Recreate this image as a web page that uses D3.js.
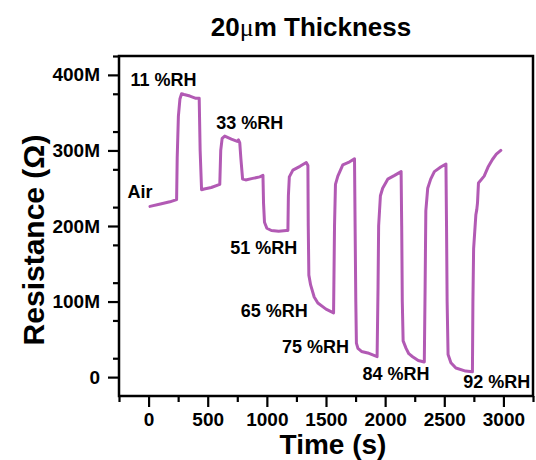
<!DOCTYPE html>
<html>
<head>
<meta charset="utf-8">
<script src="https://cdn.jsdelivr.net/npm/d3@7"></script>
<style>
  body { margin: 0; background: #fff; }
  svg { display: block; font-family: "Liberation Sans", Arial, sans-serif; }
</style>
</head>
<body>
<svg id="chart" width="536" height="460"></svg>
<script>
// Sensor response: time (s) vs. resistance (MΩ)
const timeSec = [
  12, 100, 180, 237,
  242, 252, 265, 279, 300, 349, 400, 428,
  436, 448, 470, 530, 602,
  610, 622, 644, 700, 750, 760, 771,
  780, 795, 821, 880, 940, 967,
  972, 980, 1000, 1038, 1100, 1165,
  1178, 1182, 1190, 1220, 1280, 1333,
  1347, 1350, 1355, 1370, 1400, 1431, 1500, 1564,
  1572, 1580, 1600, 1642, 1700, 1741,
  1746, 1752, 1757, 1770, 1800, 1853, 1932,
  1940, 1945, 1960, 1979, 2022, 2080, 2135,
  2140, 2145, 2152, 2177, 2200, 2232, 2280, 2331,
  2338, 2344, 2360, 2385, 2416, 2470, 2514,
  2519, 2524, 2532, 2556, 2598, 2680, 2738,
  2742, 2748, 2767, 2775, 2781, 2789, 2837, 2870, 2907, 2940, 2978
];
const resistanceM = [
  226, 229, 232, 235,
  290, 345, 368, 375, 374, 372, 369, 369,
  300, 248, 249, 251, 255,
  300, 316, 319, 315, 312, 314, 310,
  290, 262, 261, 263, 265, 267,
  230, 205, 197, 194, 193, 194,
  194, 240, 265, 274, 279, 284,
  280, 200, 135, 122, 106, 98, 90, 85,
  200, 255, 266, 281, 285, 289,
  200, 100, 45, 38, 34, 32, 27,
  120, 200, 240, 250, 262, 267, 272,
  200, 100, 48, 38, 31, 27, 22, 20,
  120, 220, 250, 262, 272, 278, 282,
  200, 100, 30, 19, 12, 8, 7,
  100, 170, 215, 222, 231, 257, 266, 278, 288, 295, 300
];

const xTicks = [0, 500, 1000, 1500, 2000, 2500, 3000];
const yTicks = [0, 100, 200, 300, 400];
const yTickLabels = ["0", "100M", "200M", "300M", "400M"];

// Humidity step annotations, anchored in data units (time, resistance)
const stepLabels = ["Air", "11 %RH", "33 %RH", "51 %RH", "65 %RH", "75 %RH", "84 %RH", "92 %RH"];
const stepLabelTime = [-73, 126, 855, 973, 1062, 1412, 2092, 2943];
const stepLabelRes = [237, 385, 329, 163, 80, 32, -4, -14];

const svg = d3.select("#chart");
const plotLeft = 119, plotRight = 533, plotTop = 56, plotBottom = 396;

const x = d3.scaleLinear().domain([-250, 3250]).range([plotLeft, plotRight]);
const y = d3.scaleLinear().domain([-25, 425]).range([plotBottom, plotTop]);

// Title
const title = svg.append("text")
  .attr("x", 311).attr("y", 36)
  .attr("text-anchor", "middle")
  .attr("font-size", 26).attr("font-weight", "bold");
title.append("tspan").text("20");
title.append("tspan").attr("font-family", "'Liberation Serif', serif").attr("font-weight", "normal").text("μ");
title.append("tspan").text("m Thickness");

// Minor ticks
const xMinor = d3.range(-250, 3251, 250).filter(v => v % 500 !== 0);
const yMinor = d3.range(-25, 426, 50).filter(v => v > -25);

const xAxis = d3.axisBottom(x).tickValues(xTicks).tickSize(11).tickPadding(6).tickFormat(d3.format("d"));
const yAxis = d3.axisLeft(y).tickValues(yTicks).tickSize(11).tickPadding(8)
  .tickFormat((d, i) => yTickLabels[i]);

const gx = svg.append("g").attr("transform", `translate(0,${plotBottom})`).call(xAxis);
const gy = svg.append("g").attr("transform", `translate(${plotLeft},0)`).call(yAxis);

svg.append("g").attr("transform", `translate(0,${plotBottom})`)
  .call(d3.axisBottom(x).tickValues(xMinor).tickSize(6).tickFormat(""))
  .call(g => g.select(".domain").remove());
svg.append("g").attr("transform", `translate(${plotLeft},0)`)
  .call(d3.axisLeft(y).tickValues(yMinor).tickSize(6).tickFormat(""))
  .call(g => g.select(".domain").remove());

svg.selectAll(".tick line").attr("stroke", "#000").attr("stroke-width", 2.2);
[gx, gy].forEach(g => {
  g.select(".domain").remove();
  g.selectAll("text").attr("font-size", 19).attr("font-weight", "bold")
    .attr("font-family", "'Liberation Sans', Arial, sans-serif").attr("fill", "#000");
});

// Frame
svg.append("rect")
  .attr("x", plotLeft).attr("y", plotTop)
  .attr("width", plotRight - plotLeft).attr("height", plotBottom - plotTop)
  .attr("fill", "none").attr("stroke", "#000").attr("stroke-width", 2.5);

// Response curve
const line = d3.line().x((d, i) => x(timeSec[i])).y(d => y(d));
svg.append("path")
  .datum(resistanceM)
  .attr("d", line)
  .attr("fill", "none")
  .attr("stroke", "#b25ab4")
  .attr("stroke-width", 3)
  .attr("stroke-linejoin", "round")
  .attr("stroke-linecap", "round");

// Step annotations
svg.append("g").selectAll("text")
  .data(stepLabels)
  .join("text")
  .attr("x", (d, i) => x(stepLabelTime[i]))
  .attr("y", (d, i) => y(stepLabelRes[i]))
  .attr("text-anchor", "middle")
  .attr("font-size", 18).attr("font-weight", "bold")
  .text(d => d);

// Axis titles
svg.append("text")
  .attr("x", 333).attr("y", 454)
  .attr("text-anchor", "middle")
  .attr("font-size", 28).attr("font-weight", "bold")
  .text("Time (s)");

svg.append("text")
  .attr("transform", "translate(44,240) rotate(-90)")
  .attr("text-anchor", "middle")
  .attr("font-size", 30).attr("font-weight", "bold")
  .text("Resistance (Ω)");
</script>
</body>
</html>
